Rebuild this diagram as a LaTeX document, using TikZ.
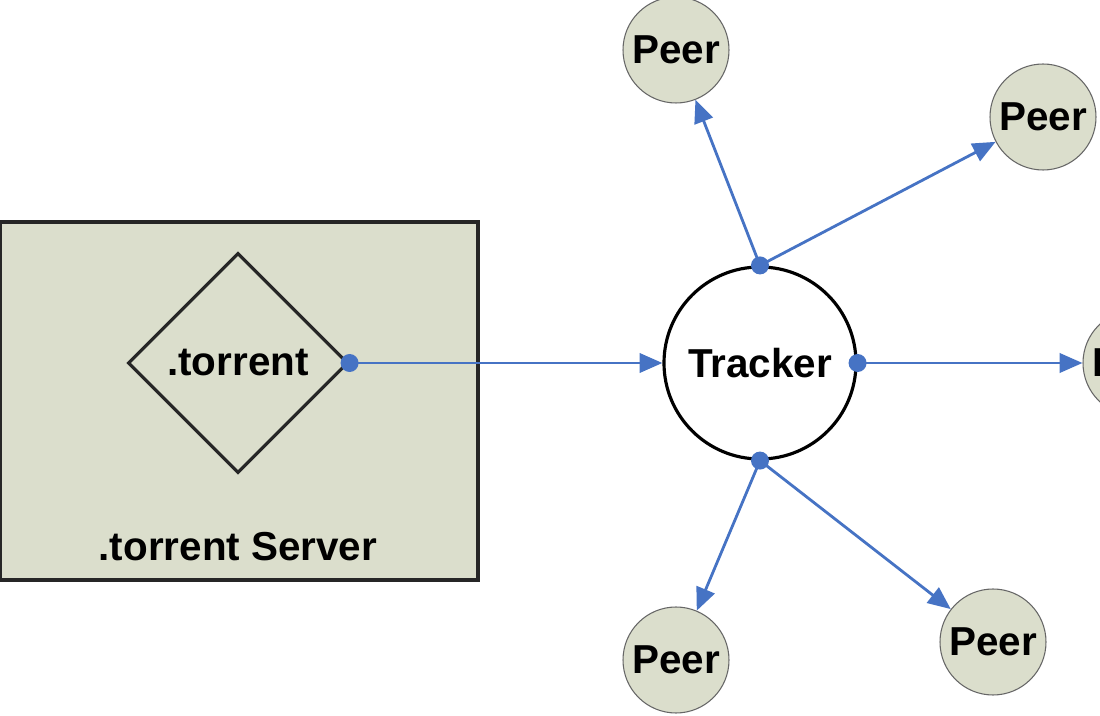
\documentclass[tikz,border=0pt]{standalone}
\usepackage{fontspec}
\setmainfont{Liberation Sans}
\usetikzlibrary{shapes.geometric,arrows.meta}
\definecolor{fillg}{RGB}{219,222,204}
\definecolor{blu}{RGB}{70,115,196}
\begin{document}
\begin{tikzpicture}[x=0.02cm,y=-0.02cm,
  lbl/.style={font=\fontsize{23}{26}\selectfont\bfseries},
  peer/.style={circle,draw=black!60,line width=0.6pt,fill=fillg,minimum size=106*0.02cm,inner sep=0pt,lbl},
  conn/.style={blu,line width=1.6pt,-{Triangle[length=13pt,width=11pt]}},
  dot/.style={circle,fill=blu,inner sep=0pt,minimum size=18*0.02cm}]
\useasboundingbox (0,0) rectangle (1100,716);
\node[draw=black!85,line width=1.8pt,fill=fillg,minimum width=478*0.02cm,minimum height=358*0.02cm,inner sep=0pt] (srv) at (239,401) {};
\node[diamond,draw=black!85,line width=1.8pt,minimum width=220*0.02cm,minimum height=220*0.02cm,inner sep=0pt,lbl] (tor) at (238,363) {.torrent};
\node[lbl] (srvl) at (238,547) {.torrent Server};
\node[circle,draw=black,line width=1.8pt,fill=white,minimum size=192*0.02cm,inner sep=0pt,lbl] (trk) at (760,363) {Tracker};
\node[peer] (p1) at (676,50) {Peer};
\node[peer] (p2) at (1043,117) {Peer};
\node[peer] (p3) at (1136,363) {Peer};
\node[peer] (p4) at (676,660) {Peer};
\node[peer] (p5) at (993,642) {Peer};
\node[dot] (d0) at (tor.east) {};
\node[dot] (dt) at (trk.north) {};
\node[dot] (dr) at (trk.east) {};
\node[dot] (db) at (trk.south) {};
\draw[conn] (d0.center) -- (trk.west);
\draw[conn] (dt.center) -- (p1);
\draw[conn] (dt.center) -- (p2);
\draw[conn] (dr.center) -- (p3);
\draw[conn] (db.center) -- (p4);
\draw[conn] (db.center) -- (p5);
\end{tikzpicture}
\end{document}
